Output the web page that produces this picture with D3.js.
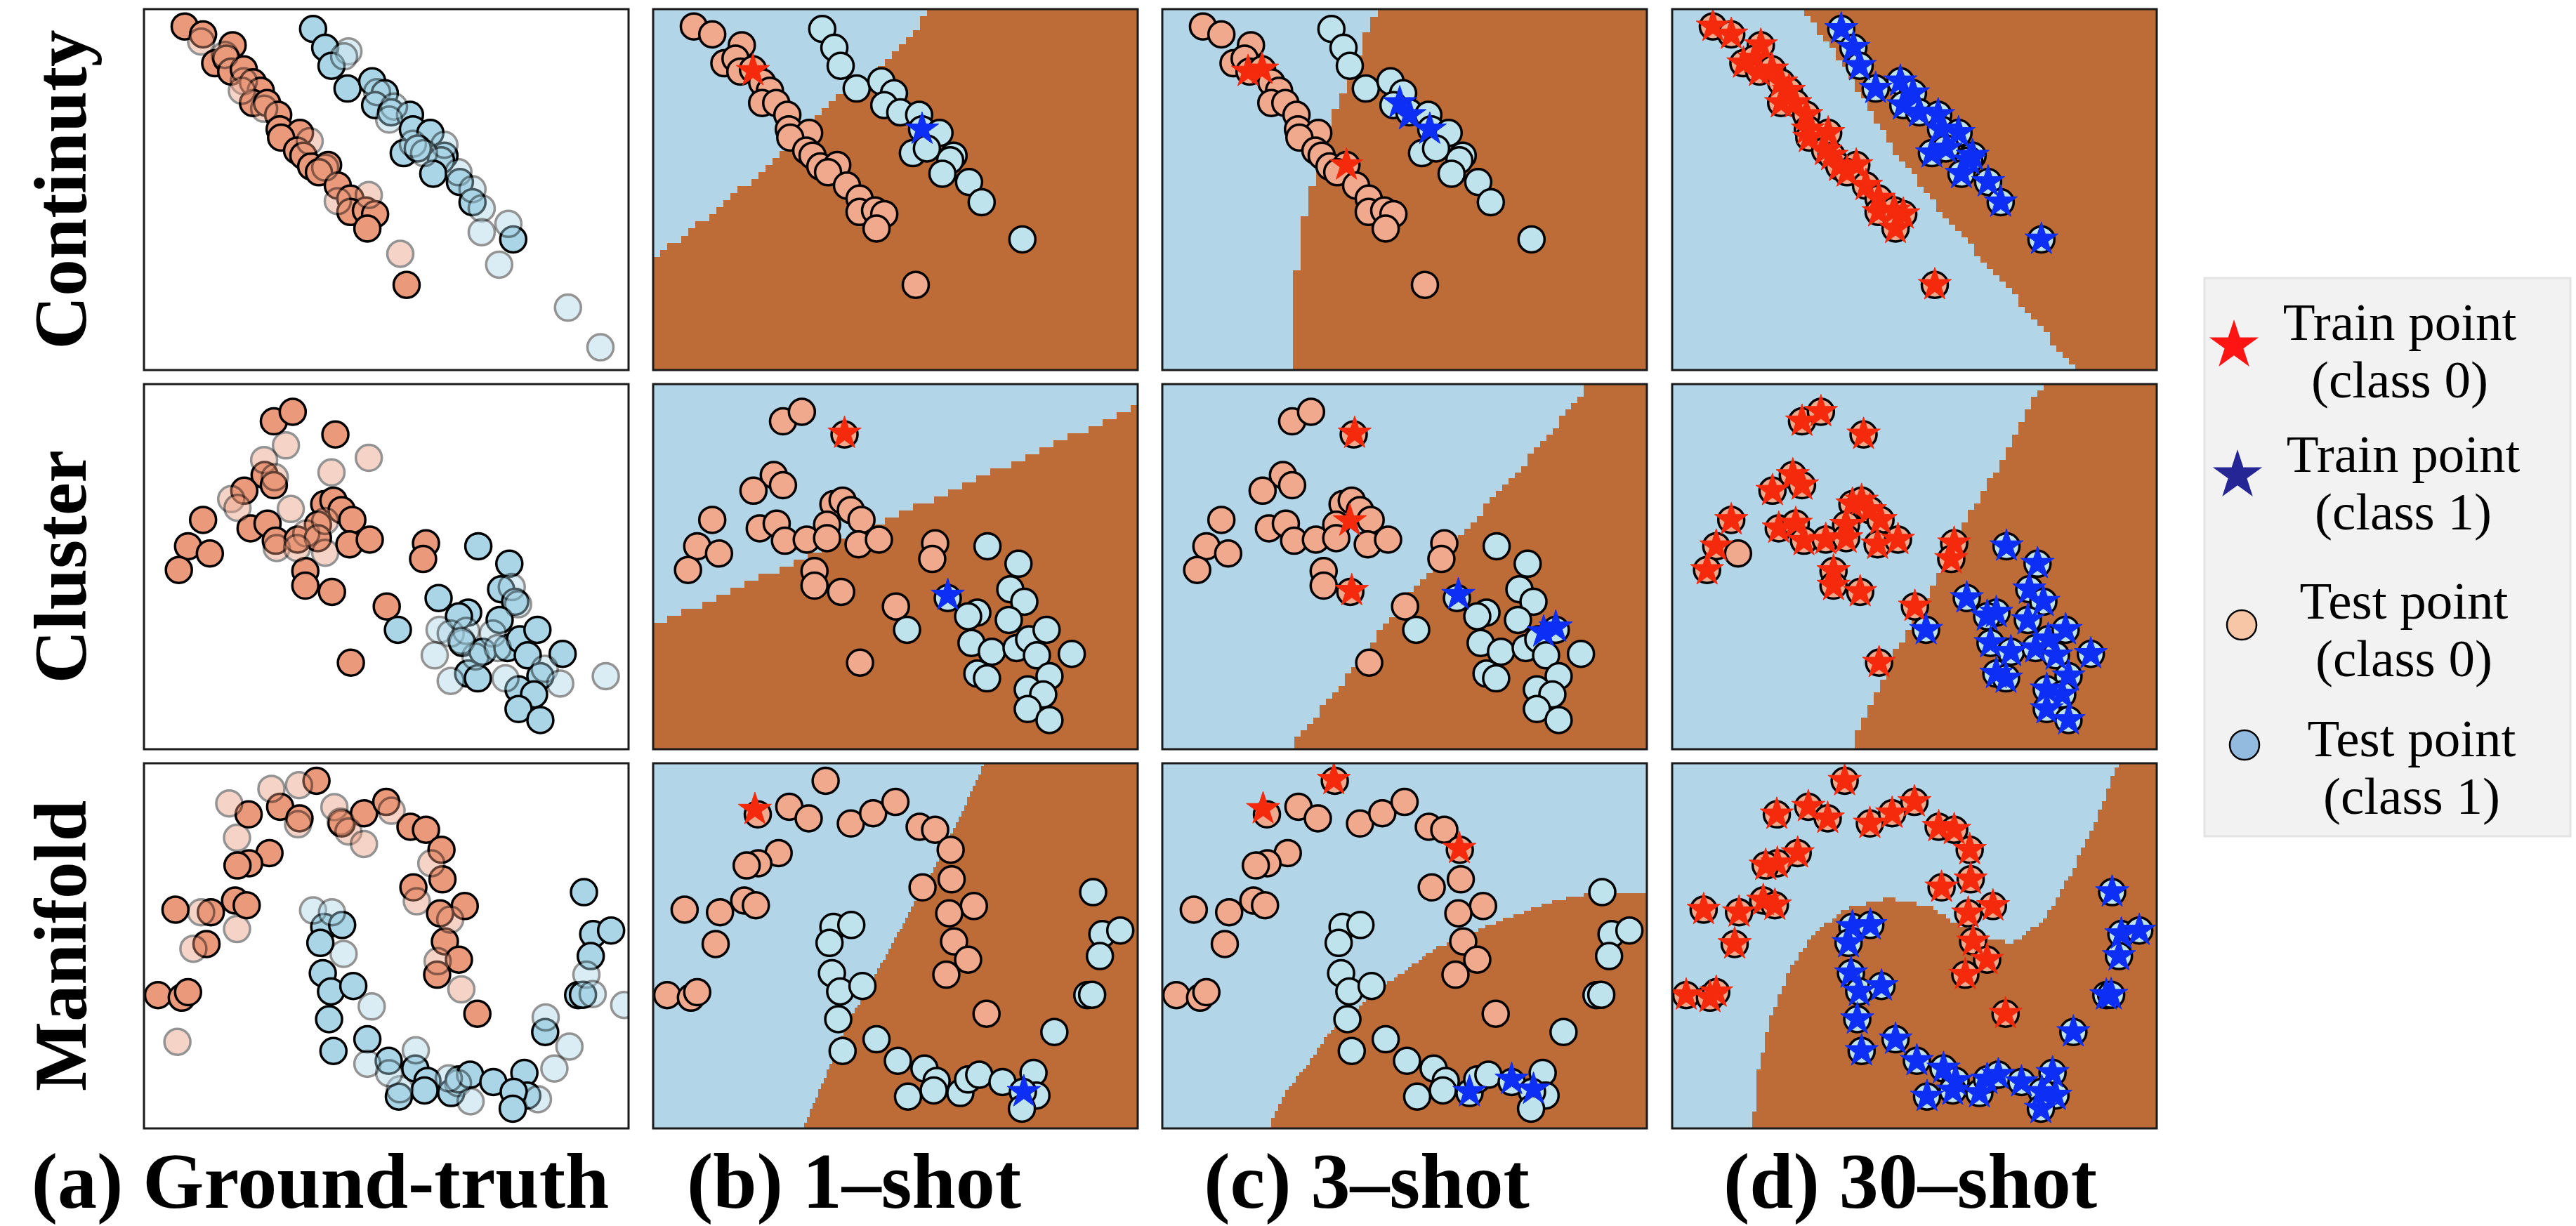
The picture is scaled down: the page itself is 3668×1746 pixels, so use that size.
<!DOCTYPE html>
<html>
<head>
<meta charset="utf-8">
<script src="https://cdn.jsdelivr.net/npm/d3@7"></script>
<style>
  body { margin: 0; background: #ffffff; }
  svg { display: block; }
</style>
</head>
<body>
<svg id="chart" width="3668" height="1746"></svg>
<script>
// ---------------- data (feature space scaled to 0–100 on both axes) ----------------
const rowNames = ["Continuty", "Cluster", "Manifold"];
const colTitles = ["(a) Ground-truth", "(b) 1–shot", "(c) 3–shot", "(d) 30–shot"];
const legendLabels = [["Train point", "(class 0)"], ["Train point", "(class 1)"],
                      ["Test point", "(class 0)"], ["Test point", "(class 1)"]];

// Continuity task
const contTest0 = [[8.4,95.2],[12.2,93.0],[18.3,90.0],[14.7,85.0],[17.0,86.3],[18.0,82.7],[20.6,83.3],[22.5,79.7],[24.1,77.4],[22.5,74.0],[25.4,74.0],[27.7,70.7],[28.0,66.7],[32.2,65.7],[28.3,64.4],[31.6,60.8],[32.9,59.4],[34.5,56.4],[38.0,56.8],[36.1,54.8],[40.0,51.1],[42.6,47.5],[42.6,43.8],[45.8,44.2],[47.7,43.2],[46.1,39.2],[54.2,23.6]];
const contTest1 = [[34.9,94.5],[37.4,89.3],[38.7,84.3],[42.0,78.0],[47.1,80.0],[49.7,76.7],[47.7,73.4],[51.0,71.4],[54.9,70.7],[55.5,66.7],[59.1,65.7],[53.6,60.1],[56.5,61.4],[62.0,59.4],[61.3,58.1],[59.7,54.4],[65.2,52.1],[67.8,46.5],[76.2,36.2]];
const contPool0 = [[11.8,91.0],[16.7,87.3],[20.6,80.0],[20.2,77.4],[24.8,72.4],[34.2,63.4],[37.4,56.1],[40.0,46.8],[46.4,48.5],[52.9,32.2]];
const contPool1 = [[42.2,88.3],[41.3,86.9],[48.1,77.0],[51.6,73.0],[50.6,69.4],[55.5,62.7],[62.0,62.4],[57.8,60.1],[64.9,54.8],[67.8,50.1],[69.7,44.8],[69.7,38.2],[75.2,40.5],[73.3,29.2],[87.5,17.3],[94.2,6.3]];
const contTrain1shot0 = [[20.6,82.9]];
const contTrain1shot1 = [[55.5,66.7]];
const contTrain3shot0 = [[17.7,82.7],[20.6,83.3],[38.0,56.8]];
const contTrain3shot1 = [[49.0,74.0],[51.0,70.7],[55.2,66.7]];
// class-1 decision regions
const contRegion1shot = [[58.4,101],[46.8,83.9],[36.7,74.0],[26.7,60.0],[12.8,44.2],[-1,29.5],[-1,-1],[101,-1],[101,101]];
const contRegion3shot = [[45.1,101],[41.9,93.3],[38.4,80.7],[35.1,70.1],[31.6,53.1],[29.9,46.8],[28.3,36.3],[27.0,16.3],[27.7,-1],[101,-1],[101,101]];
const contRegion30shot = [[26.6,101],[35.1,85.3],[45.6,61.4],[56.1,42.8],[70.5,20.9],[83.7,-1],[101,-1],[101,101]];

// Cluster task
const clusTest0 = [[26.8,89.8],[30.7,92.4],[39.5,86.2],[24.9,75.1],[26.8,72.3],[20.7,70.8],[12.2,62.8],[9.1,55.6],[13.6,53.6],[7.2,49.1],[22.0,60.5],[25.5,61.8],[27.2,57.1],[31.7,57.4],[37.2,67.1],[39.1,68.1],[40.8,65.5],[43.0,62.8],[35.9,61.5],[35.9,57.8],[42.4,56.1],[46.6,57.4],[33.3,48.8],[33.3,44.8],[38.8,43.1],[50.1,39.1],[42.7,23.7],[58.2,56.4],[57.6,52.1]];
const clusTest1 = [[69.0,55.6],[75.4,50.8],[73.7,43.8],[76.6,40.4],[60.8,41.4],[66.9,37.4],[65.0,36.4],[73.4,35.4],[52.4,32.7],[65.7,29.1],[69.9,26.7],[75.0,27.7],[77.6,30.1],[81.2,32.7],[79.2,25.7],[86.4,26.1],[66.9,20.7],[68.9,19.4],[81.8,20.0],[77.3,16.4],[80.5,15.0],[77.3,11.0],[81.8,8.0]];
const clusPool0 = [[29.3,83.2],[24.8,79.2],[27.0,74.5],[38.7,75.8],[46.4,79.8],[18.0,68.5],[19.3,66.1],[30.3,65.8],[33.5,59.1],[37.4,62.5],[27.4,55.1],[31.6,55.1],[37.4,53.8]];
const clusPool1 = [[61.0,32.7],[63.3,31.7],[66.5,32.4],[72.0,31.7],[75.9,44.4],[77.2,39.7],[60.0,25.7],[63.3,18.7],[68.4,25.4],[73.0,27.7],[74.6,19.4],[82.7,22.0],[85.9,18.0],[95.3,20.0],[65.5,29.7]];
const clusTrain1shot0 = [[39.5,86.5]];
const clusTrain1shot1 = [[60.8,42.1]];
const clusTrain3shot0 = [[39.7,86.5],[38.7,62.5],[39.1,43.4]];
const clusTrain3shot1 = [[61.1,42.3],[78.7,32.1],[81.2,33.4]];
const clusUnlabelled30shot = [[13.6,53.6]];
const clusRegion1shot = [[-1,33.1],[101,94.6],[101,-1],[-1,-1]];
const clusRegion3shot = [[25.6,-1],[40.5,23.7],[47.0,36.4],[54.7,47.8],[63.8,61.8],[80.0,86.5],[88.7,101],[101,101],[101,-1]];
const clusRegion30shot = [[36.4,-1],[45.9,26.4],[53.8,44.4],[60.4,61.8],[66.9,76.5],[76.8,101],[101,101],[101,-1]];

// Manifold task
const maniTest0 = [[35.6,95.2],[21.6,86.0],[28.1,88.1],[32.1,84.9],[40.8,83.5],[45.4,86.3],[50.0,89.4],[55.0,82.6],[58.2,81.8],[61.4,76.3],[25.9,75.4],[21.7,72.6],[19.3,72.0],[61.6,68.2],[55.6,66.0],[6.5,59.9],[13.8,59.2],[18.8,62.4],[21.2,61.1],[66.2,60.9],[61.1,58.9],[12.9,50.5],[62.1,51.2],[65.0,46.2],[60.5,42.1],[2.9,36.5],[7.8,35.8],[9.1,37.3],[68.8,31.4]];
const maniTest1 = [[90.8,64.7],[37.2,55.2],[40.9,55.7],[36.4,50.8],[92.7,53.2],[96.4,54.2],[92.2,47.2],[36.9,42.5],[38.6,37.5],[43.2,39.0],[89.6,36.5],[90.6,36.6],[38.2,29.9],[82.8,26.4],[39.1,21.2],[46.1,24.4],[50.5,18.5],[56.0,16.4],[58.5,13.0],[57.9,10.4],[52.6,8.7],[63.4,9.7],[65.0,13.4],[67.3,14.7],[72.1,12.7],[78.5,15.2],[79.1,9.0],[76.3,10.0],[76.1,5.4]];
const maniPool0 = [[17.6,89.0],[26.3,93.0],[32.0,94.0],[31.8,83.3],[39.3,88.0],[40.6,84.0],[42.2,81.3],[45.4,77.9],[51.1,87.0],[19.2,79.6],[11.8,59.2],[19.2,54.6],[10.2,49.2],[59.3,72.6],[56.3,62.2],[63.2,57.2],[60.6,45.8],[65.5,38.1],[6.9,23.7]];
const maniPool1 = [[34.9,59.7],[38.8,59.2],[41.2,47.8],[47.0,33.4],[46.1,17.7],[56.1,21.4],[52.8,10.7],[64.8,12.4],[67.4,7.4],[81.3,8.0],[82.9,30.4],[87.8,22.4],[84.7,16.4],[91.3,42.1],[92.6,36.8],[99.1,33.8],[50.6,15.1],[62.9,13.7]];
const maniTrain1shot0 = [[21.0,87.3]];
const maniTrain1shot1 = [[76.5,10.0]];
const maniTrain3shot0 = [[20.8,87.5],[35.4,95.5],[61.3,76.6]];
const maniTrain3shot1 = [[63.4,10.0],[72.1,13.4],[76.6,10.7]];
const maniRegion1shot = [[68.6,101],[62.4,82.6],[57.9,71.2],[53.4,60.5],[46.9,44.5],[39.8,27.8],[35.9,15.1],[30.7,-1],[101,-1],[101,101]];
const maniRegion3shot = [[21.7,-1],[25.2,9.7],[29.8,17.1],[34.3,25.8],[39.5,31.8],[45.9,39.1],[56.3,49.2],[64.0,53.8],[78.3,61.2],[86.0,63.9],[101,64.9],[101,-1]];
const maniRegion30shot = [[92.2,101],[88.1,86.5],[82.7,70.7],[76.9,57.2],[70.2,50.5],[61.7,53.6],[53.2,60.8],[44.7,63.1],[36.3,60.4],[29.5,53.6],[24.4,43.7],[20.3,30.2],[17.6,14.4],[16.6,-1],[101,-1],[101,101]];

// ---------------- layout & style ----------------
const colX = [205, 930, 1655, 2381];
const panelW = 690;
const rowY = [13, 547, 1087];
const rowH = [514, 520, 520];
const cellSize = [[10, 11, 9], [10, 9, 9], [4, 5, 6]];

const C = {
  bg0: "#b3d5e8", bg1: "#bd6c37",
  test0: "#f0a98c", test1: "#bfe3ed",
  gt0: "#ea997b", gt1: "#a9d5e6",
  star0: "#f52a0c", star1: "#0c2ef5",
  legStar0: "#ff1414", legStar1: "#252596",
  legTest0: "#f7c6a6", legTest1: "#93badf"
};
const R_PT = 18.5, R_STAR = 25;
const SERIF = "'Liberation Serif', 'Times New Roman', serif";

const tasks = [
  { test0: contTest0, test1: contTest1, pool0: contPool0, pool1: contPool1,
    train: [[contTrain1shot0, contTrain1shot1], [contTrain3shot0, contTrain3shot1]],
    regions: [contRegion1shot, contRegion3shot, contRegion30shot], skip30: [] },
  { test0: clusTest0, test1: clusTest1, pool0: clusPool0, pool1: clusPool1,
    train: [[clusTrain1shot0, clusTrain1shot1], [clusTrain3shot0, clusTrain3shot1]],
    regions: [clusRegion1shot, clusRegion3shot, clusRegion30shot], skip30: clusUnlabelled30shot },
  { test0: maniTest0, test1: maniTest1, pool0: maniPool0, pool1: maniPool1,
    train: [[maniTrain1shot0, maniTrain1shot1], [maniTrain3shot0, maniTrain3shot1]],
    regions: [maniRegion1shot, maniRegion3shot, maniRegion30shot], skip30: [] }
];

const svg = d3.select("#chart");
svg.append("rect").attr("width", 3668).attr("height", 1746).attr("fill", "#ffffff");
const defs = svg.append("defs");

function starPath(cx, cy, R) {
  const r = R * 0.382, pts = [];
  for (let k = 0; k < 10; k++) {
    const a = -Math.PI / 2 + k * Math.PI / 5, rad = k % 2 ? r : R;
    pts.push([cx + rad * Math.cos(a), cy + rad * Math.sin(a)]);
  }
  return "M" + pts.map(p => p[0].toFixed(2) + "," + p[1].toFixed(2)).join("L") + "Z";
}

// Decision surface rasterised on a coarse mesh, as a classifier grid would be.
function drawRegion(g, x, y, poly, L, T, w, h, cs) {
  const pp = poly.map(p => [x(p[0]), y(p[1])]);
  const nx = Math.round(w / cs), ny = Math.round(h / cs);
  const cw = w / nx, ch = h / ny;
  g.append("rect").attr("x", L).attr("y", T).attr("width", w).attr("height", h).attr("fill", C.bg0);
  const runs = [];
  for (let j = 0; j < ny; j++) {
    const cy = T + (j + 0.5) * ch;
    let start = -1;
    for (let i = 0; i <= nx; i++) {
      const inside = i < nx && d3.polygonContains(pp, [L + (i + 0.5) * cw, cy]);
      if (inside && start < 0) start = i;
      if (!inside && start >= 0) { runs.push([start, i, j]); start = -1; }
    }
  }
  g.selectAll(null).data(runs).join("rect")
    .attr("x", d => L + d[0] * cw).attr("y", d => T + d[2] * ch)
    .attr("width", d => (d[1] - d[0]) * cw).attr("height", ch + 0.6)
    .attr("fill", C.bg1).attr("shape-rendering", "crispEdges");
}

function drawCircles(g, x, y, pts, fill, opacity) {
  g.selectAll(null).data(pts).join("circle")
    .attr("cx", d => x(d[0])).attr("cy", d => y(d[1])).attr("r", R_PT)
    .attr("fill", fill).attr("stroke", "#000").attr("stroke-width", 3.5)
    .attr("opacity", opacity);
}

function drawStars(g, x, y, pts, fill) {
  g.selectAll(null).data(pts).join("path")
    .attr("d", d => starPath(x(d[0]), y(d[1]), R_STAR))
    .attr("fill", fill).attr("stroke", fill).attr("stroke-width", 1);
}

tasks.forEach((task, r) => {
  const T = rowY[r], h = rowH[r];
  for (let c = 0; c < 4; c++) {
    const L = colX[c];
    const x = d3.scaleLinear().domain([0, 100]).range([L, L + panelW]);
    const y = d3.scaleLinear().domain([0, 100]).range([T + h, T]);
    const id = `clip-${r}-${c}`;
    defs.append("clipPath").attr("id", id)
      .append("rect").attr("x", L).attr("y", T).attr("width", panelW).attr("height", h);
    const g = svg.append("g").attr("clip-path", `url(#${id})`);

    if (c === 0) {
      g.append("rect").attr("x", L).attr("y", T).attr("width", panelW).attr("height", h).attr("fill", "#fff");
      drawCircles(g, x, y, task.test0, C.gt0, 1);
      drawCircles(g, x, y, task.test1, C.gt1, 1);
      drawCircles(g, x, y, task.pool0, C.gt0, 0.42);
      drawCircles(g, x, y, task.pool1, C.gt1, 0.42);
    } else {
      drawRegion(g, x, y, task.regions[c - 1], L, T, panelW, h, cellSize[r][c - 1]);
      drawCircles(g, x, y, task.test0, C.test0, 1);
      drawCircles(g, x, y, task.test1, C.test1, 1);
      if (c < 3) {
        drawStars(g, x, y, task.train[c - 1][0], C.star0);
        drawStars(g, x, y, task.train[c - 1][1], C.star1);
      } else {
        const keep = p => !task.skip30.some(q => q[0] === p[0] && q[1] === p[1]);
        drawStars(g, x, y, task.test0.filter(keep), C.star0);
        drawStars(g, x, y, task.test1.filter(keep), C.star1);
      }
    }
    svg.append("rect").attr("x", L).attr("y", T).attr("width", panelW).attr("height", h)
      .attr("fill", "none").attr("stroke", "#1a1a1a").attr("stroke-width", 3);
  }
  // row label
  svg.append("text")
    .attr("transform", `translate(122,${T + h / 2}) rotate(-90)`)
    .attr("text-anchor", "middle")
    .attr("font-family", SERIF)
    .attr("font-weight", "bold").attr("font-size", 105)
    .text(rowNames[r]);
});

// column titles
const titleX = [456, 1216, 1946, 2720];
colTitles.forEach((t, i) => {
  svg.append("text").attr("x", titleX[i]).attr("y", 1720)
    .attr("text-anchor", "middle")
    .attr("font-family", SERIF).attr("font-weight", "bold").attr("font-size", 112)
    .text(t);
});

// legend
const leg = svg.append("g");
leg.append("rect").attr("x", 3139).attr("y", 396).attr("width", 521).attr("height", 795)
  .attr("fill", "#f2f2f2").attr("stroke", "#e3e3e3").attr("stroke-width", 3);
const legMarkers = [
  { type: "star", fill: C.legStar0, mx: 3181, my: 492, tx: 3417, ty: 484 },
  { type: "star", fill: C.legStar1, mx: 3186, my: 677, tx: 3422, ty: 672 },
  { type: "circle", fill: C.legTest0, mx: 3192, my: 890, tx: 3423, ty: 881 },
  { type: "circle", fill: C.legTest1, mx: 3196, my: 1061, tx: 3434, ty: 1077 }
];
legMarkers.forEach((m, i) => {
  if (m.type === "star") {
    leg.append("path").attr("d", starPath(m.mx, m.my, 37)).attr("fill", m.fill);
  } else {
    leg.append("circle").attr("cx", m.mx).attr("cy", m.my).attr("r", 21)
      .attr("fill", m.fill).attr("stroke", "#000").attr("stroke-width", 2.5);
  }
  legendLabels[i].forEach((line, k) => {
    leg.append("text").attr("x", m.tx).attr("y", m.ty + k * 82)
      .attr("text-anchor", "middle")
      .attr("font-family", SERIF)
      .attr("font-size", 75).attr("fill", "#000")
      .text(line);
  });
});
</script>
</body>
</html>
